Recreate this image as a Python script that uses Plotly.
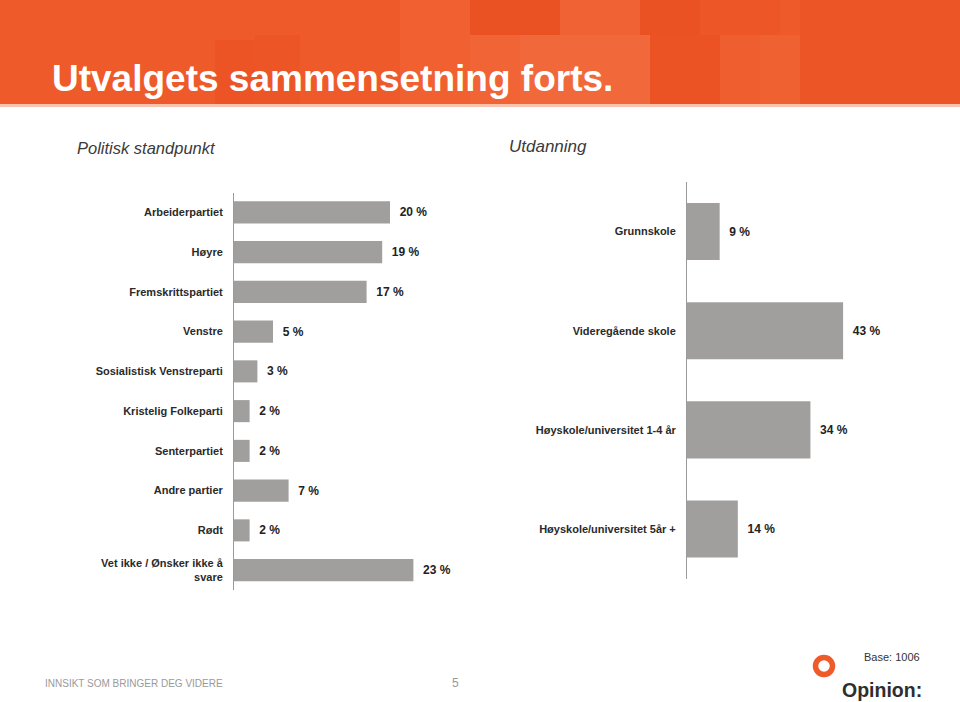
import plotly.graph_objects as go

# ---- data ----
parti_labels = ["Arbeiderpartiet", "Høyre", "Fremskrittspartiet", "Venstre",
                "Sosialistisk Venstreparti", "Kristelig Folkeparti", "Senterpartiet",
                "Andre partier", "Rødt", "Vet ikke / Ønsker ikke å<br>svare"]
parti_values = [20, 19, 17, 5, 3, 2, 2, 7, 2, 23]

utd_labels = ["Grunnskole", "Videregående skole", "Høyskole/universitet 1-4 år",
              "Høyskole/universitet 5år +"]
utd_values = [9, 43, 34, 14]

W, H = 960, 702
def px(x): return x / W
def py(y): return 1 - y / H

BAR = "#A09F9D"
FONT = "Liberation Sans, Arial, sans-serif"

fig = go.Figure()
fig.add_trace(go.Bar(
    x=parti_values, y=parti_labels, orientation="h", marker=dict(color=BAR, line=dict(width=0)),
    texttemplate="\u00a0\u00a0%{x} %", textposition="outside", cliponaxis=False,
    textfont=dict(family=FONT, size=12, color="#222222", weight="bold"),
    xaxis="x", yaxis="y", hoverinfo="skip"))
fig.add_trace(go.Bar(
    x=utd_values, y=utd_labels, orientation="h", marker=dict(color=BAR, line=dict(width=0)),
    texttemplate="\u00a0\u00a0%{x} %", textposition="outside", cliponaxis=False,
    textfont=dict(family=FONT, size=12, color="#222222", weight="bold"),
    xaxis="x2", yaxis="y2", hoverinfo="skip", width=0.575))

axis_y = dict(type="category", autorange="reversed", showline=True, linecolor="#9a9a9a",
              linewidth=1, ticks="", showgrid=False, ticklabelstandoff=8,
              tickfont=dict(family=FONT, size=11, color="#2a2a2a", weight="bold"))
axis_x = dict(visible=False, showgrid=False, zeroline=False)

fig.update_layout(
    width=W, height=H, margin=dict(l=0, r=0, t=0, b=0),
    paper_bgcolor="white", plot_bgcolor="rgba(0,0,0,0)", showlegend=False,
    bargap=0.445,
    xaxis=dict(axis_x, domain=[px(234), px(429)], range=[0, 25], anchor="y"),
    yaxis=dict(axis_y, domain=[py(590), py(192.5)], anchor="x"),
    xaxis2=dict(axis_x, domain=[px(687), px(868.5)], range=[0, 50], anchor="y2"),
    yaxis2=dict(axis_y, domain=[py(578.6), py(182)], anchor="x2"),
)

shapes = []
# header band
shapes.append(dict(type="rect", xref="paper", yref="paper", x0=0, x1=1, y0=py(104), y1=1,
                   fillcolor="#EE5A2A", line=dict(width=0), layer="below"))
shapes.append(dict(type="rect", xref="paper", yref="paper", x0=0, x1=1, y0=py(107), y1=py(104),
                   fillcolor="#F7C2AE", line=dict(width=0), layer="below"))
deco = [
    (215, 40, 255, 104, "rgba(230,60,20,0.2)"),
    (255, 35, 300, 104, "rgba(230,60,20,0.15)"),
    (400, 0, 470, 104, "rgba(255,140,100,0.12)"),
    (470, 0, 560, 35, "rgba(225,55,15,0.25)"),
    (470, 35, 520, 104, "rgba(255,150,110,0.18)"),
    (520, 35, 650, 104, "rgba(255,160,120,0.22)"),
    (560, 0, 640, 35, "rgba(255,150,110,0.15)"),
    (640, 0, 700, 35, "rgba(225,55,15,0.25)"),
    (650, 35, 720, 104, "rgba(225,55,15,0.2)"),
    (700, 0, 780, 35, "rgba(235,70,30,0.2)"),
    (720, 35, 760, 104, "rgba(255,140,100,0.1)"),
    (760, 35, 800, 104, "rgba(255,140,100,0.14)"),
    (800, 0, 960, 104, "rgba(225,60,20,0.12)"),
]
for x0, y0, x1, y1, c in deco:
    shapes.append(dict(type="rect", xref="paper", yref="paper", x0=px(x0), x1=px(x1),
                       y0=py(y1), y1=py(y0), fillcolor=c, line=dict(width=0), layer="below"))
# logo ring
shapes.append(dict(type="circle", xref="paper", yref="paper",
                   x0=px(824 - 8.5), x1=px(824 + 8.5), y0=py(666 + 8.5), y1=py(666 - 8.5),
                   line=dict(color="#EE5A2A", width=5.5), fillcolor="rgba(0,0,0,0)"))
fig.update_layout(shapes=shapes)

ann = []
def txt(x, y, s, size, color, xanchor="left", weight="normal", style="normal", family=FONT):
    ann.append(dict(xref="paper", yref="paper", x=px(x), y=py(y), text=s, showarrow=False,
                    xanchor=xanchor, yanchor="middle",
                    font=dict(family=family, size=size, color=color, weight=weight, style=style)))

txt(50, 78, "Utvalgets sammensetning forts.", 37, "white", weight="bold")
txt(75, 148, "Politisk standpunkt", 16.5, "#3a3a3a", style="italic")
txt(507, 146, "Utdanning", 17, "#3a3a3a", style="italic")
txt(43, 683, "INNSIKT SOM BRINGER DEG VIDERE", 10, "#9a9a9a")
txt(455, 683, "5", 12, "#9a9a9a", xanchor="center")
txt(862, 657, "Base: 1006", 11, "#333333")
txt(840, 690, "Opinion:", 19.5, "#2e2e2e", weight="bold")
fig.update_layout(annotations=ann)

fig.write_html("out.html", config={"displayModeBar": False},
               post_script="document.body.style.margin='0';document.body.style.overflow='hidden';")
